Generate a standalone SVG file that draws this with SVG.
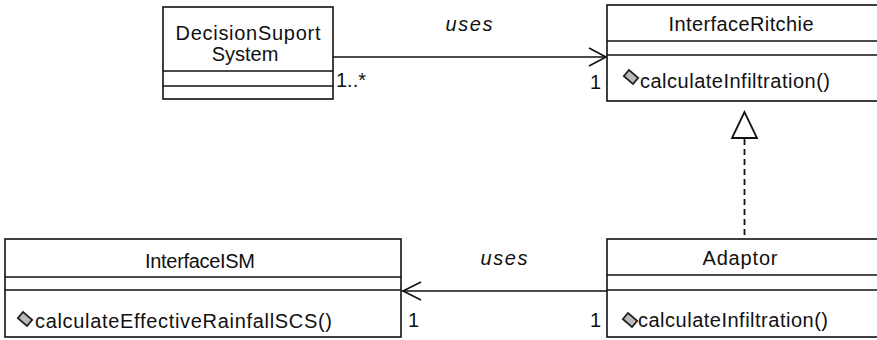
<svg xmlns="http://www.w3.org/2000/svg" width="877" height="340" viewBox="0 0 877 340">
<style>
.box{fill:#fff;stroke:#111;stroke-width:1.6}
.sep{stroke:#111;stroke-width:1.6}
.conn{fill:none;stroke:#111;stroke-width:1.6}
.dash{fill:none;stroke:#111;stroke-width:1.8;stroke-dasharray:6 4}
text{font-family:"Liberation Sans",Arial,sans-serif;font-size:20px;fill:#111}
.c{text-anchor:middle}
.i{font-style:italic}
</style>
<defs>
<g id="op">
<rect x="-6" y="-4" width="12" height="8" transform="rotate(40)" fill="#bbb" stroke="#222" stroke-width="1.8"/>
</g>
</defs>
<rect width="877" height="340" fill="#fff"/>
<g id="connectors">
<line class="conn" x1="333" y1="57" x2="606" y2="57"/>
<polyline class="conn" points="589,48 606,57 589,66"/>
<line class="conn" x1="607" y1="291" x2="402" y2="291"/>
<polyline class="conn" points="421,282 403,291 421,300"/>
<line class="dash" x1="744.5" y1="139" x2="744.5" y2="239"/>
<polygon points="744.5,112 732,138 757,138" fill="#fff" stroke="#111" stroke-width="1.8"/>
<text x="469" y="31" class="c i" textLength="47">uses</text>
<text x="504" y="265" class="c i" textLength="47">uses</text>
<text x="336" y="87">1..*</text>
<text x="590" y="89">1</text>
<text x="408" y="327">1</text>
<text x="590" y="327">1</text>
</g>
<g id="DecisionSuportSystem">
<rect class="box" x="163" y="7" width="170" height="92"/>
<line class="sep" x1="163" y1="71" x2="333" y2="71"/>
<line class="sep" x1="163" y1="86" x2="333" y2="86"/>
<text x="248" y="40" class="c" textLength="145">DecisionSuport</text>
<text x="245" y="61" class="c">System</text>
</g>
<g id="InterfaceRitchie">
<rect class="box" x="607" y="5" width="272" height="96"/>
<line class="sep" x1="607" y1="41" x2="879" y2="41"/>
<line class="sep" x1="607" y1="55" x2="879" y2="55"/>
<text x="741" y="31" class="c" textLength="145">InterfaceRitchie</text>
<use href="#op" x="631" y="77"/>
<text x="640" y="88" textLength="190">calculateInfiltration()</text>
</g>
<g id="Adaptor">
<rect class="box" x="607" y="239" width="272" height="98"/>
<line class="sep" x1="607" y1="275" x2="879" y2="275"/>
<line class="sep" x1="607" y1="290" x2="879" y2="290"/>
<text x="740" y="265" class="c" textLength="75">Adaptor</text>
<use href="#op" x="630" y="320"/>
<text x="638" y="327" textLength="190">calculateInfiltration()</text>
</g>
<g id="InterfaceISM">
<rect class="box" x="5" y="239" width="396" height="98"/>
<line class="sep" x1="5" y1="277" x2="401" y2="277"/>
<line class="sep" x1="5" y1="290" x2="401" y2="290"/>
<text x="200" y="268" class="c" textLength="110">InterfaceISM</text>
<use href="#op" x="25" y="319"/>
<text x="35" y="328" textLength="297">calculateEffectiveRainfallSCS()</text>
</g>
</svg>
